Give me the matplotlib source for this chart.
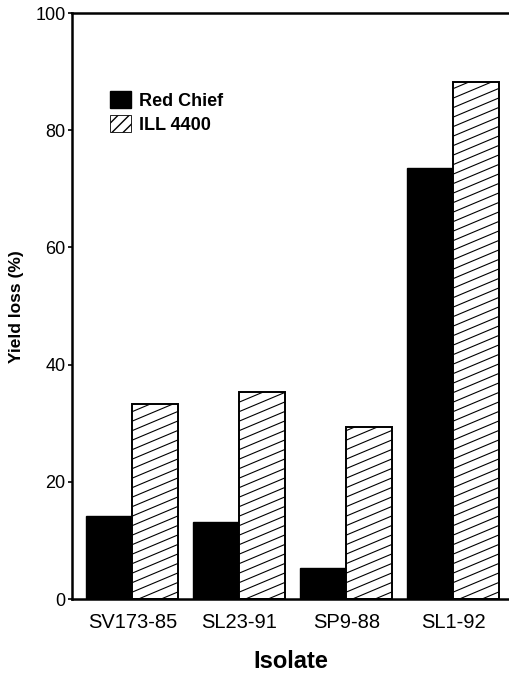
import numpy as np
import matplotlib
matplotlib.use("Agg")
import matplotlib.pyplot as plt
from matplotlib.patches import Patch
from matplotlib.collections import LineCollection

plt.rcParams['font.family'] = ['Liberation Sans', 'DejaVu Sans']

isolates = ["SV173-85", "SL23-91", "SP9-88", "SL1-92"]
red_chief = [14.2, 13.1, 5.3, 73.5]
ill_4400 = [33.2, 35.4, 29.4, 88.2]
series_names = ["Red Chief", "ILL 4400"]
y_ticks = [0, 20, 40, 60, 80, 100]

W, H = 509, 673
fig = plt.figure(figsize=(W / 100, H / 100), dpi=100)
ax_l, ax_b, ax_t = 72 / W, (H - 599) / H, (H - 13) / H
ax = fig.add_axes([ax_l, ax_b, 1.0 - ax_l, ax_t - ax_b])

x = np.arange(len(isolates))
bw = 0.43
b1 = ax.bar(x - bw, red_chief, width=bw, align='edge', color='black',
            edgecolor='black', linewidth=1.0, zorder=2)
b2 = ax.bar(x, ill_4400, width=bw, align='edge', color='white',
            edgecolor='black', linewidth=1.4, zorder=2)

ax.set_xlim(-0.565, 3.52)
ax.set_ylim(0, 100)

# custom shallow hatching for ILL 4400 bars
px_per_x = (W - 72) / (3.52 + 0.565)
px_per_y = 586 / 100
slope = 0.42 * px_per_x / px_per_y
spacing = 9.5 / px_per_y
for rect in b2:
    x0, w, h = rect.get_x(), rect.get_width(), rect.get_height()
    segs = []
    for c in np.arange(-slope * w - 2, h + 2, spacing):
        segs.append([(x0, c), (x0 + w, c + slope * w)])
    lc = LineCollection(segs, colors='black', linewidths=0.8, zorder=3)
    ax.add_collection(lc)
    lc.set_clip_path(rect)

for s in ['top', 'left', 'bottom']:
    ax.spines[s].set_linewidth(1.8)
ax.spines['right'].set_visible(False)

ax.set_yticks(y_ticks)
ax.set_yticklabels([str(v) for v in y_ticks], fontsize=13)
ax.set_xticks(x)
ax.set_xticklabels(isolates, fontsize=14.5)
ax.tick_params(axis='x', length=0, pad=10)
ax.tick_params(axis='y', length=3, width=1.2, pad=1.5)

ax.set_xlabel("Isolate", fontsize=17, fontweight='bold', labelpad=13)
fig.text(17 / W, 1 - 307 / H, "Yield loss (%)", rotation=90, fontsize=12.5,
         fontweight='bold', ha='center', va='center')

handles = [Patch(facecolor='black', edgecolor='black'),
           Patch(facecolor='white', edgecolor='black', hatch='///', linewidth=0.6)]
ax.legend(handles, series_names, loc='upper left', bbox_to_anchor=(0.087, 0.867),
          frameon=False, borderpad=0, borderaxespad=0, handlelength=1.15,
          handleheight=1.1, handletextpad=0.45, labelspacing=0.3,
          prop={'weight': 'bold', 'size': 13})

fig.savefig("out.png", dpi=100)
